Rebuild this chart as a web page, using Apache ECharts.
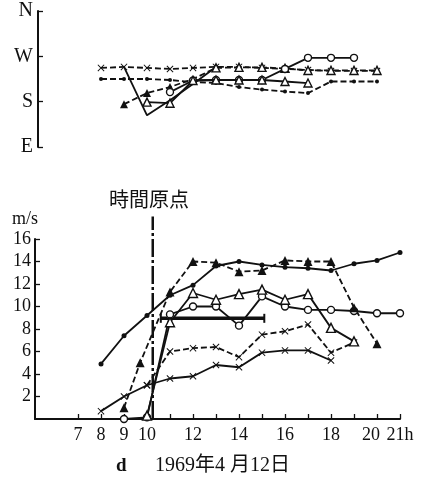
<!DOCTYPE html>
<html><head><meta charset="utf-8">
<script src="https://cdn.jsdelivr.net/npm/echarts/dist/echarts.min.js"></script>
<style>html,body{margin:0;padding:0;background:#fff}#c{width:431px;height:484px}</style>
</head><body><div id="c"></div><script>
// ---- tick labels ----
const hourTicks = [7,8,9,10,11,12,13,14,15,16,17,18,19,20,21];
const hourLabels = [7,8,9,10,12,14,16,18,20,21];
const dirValues = [90,180,270,360];
const dirNames = ['E','S','W','N'];
const timeOrigin = 10.25;

// ---- upper panel: wind direction (degrees) ----
const dirCrossDashed = [[8,247],[9,249],[10,247],[11,245],[12,247],[13,249],[14,249],[15,247],[16,245],[17,243],[18,241],[19,241],[20,241]];
const dirTriDashedA = [[9,175],[10,197],[11,209],[12,225],[13,247]];
const dirTriDashedB = [[13,247],[14,248],[15,248],[16,246],[17,242],[18,242],[19,242],[20,242]];
const dirDotDashed = [[8,225],[9,225],[10,225],[11,223],[12,219],[13,217],[14,209],[15,204],[16,200],[17,197],[18,220],[19,220],[20,220]];
const dirCircleSolid = [[11,199],[12,222],[13,223],[14,223],[15,223],[16,245],[17,267],[18,267],[19,267]];
const dirTriSolid = [[10,179],[11,177],[12,222],[13,223],[14,223],[15,223],[16,220],[17,217]];
const dirPlainSolid = [[9,249],[10,153],[11,183],[12,215],[13,249]];

// ---- lower panel: wind speed (m/s) ----
const spdDot = [[8,4.9],[9,7.4],[10,9.2],[11,11.0],[12,11.9],[13,13.6],[14,14.0],[15,13.7],[16,13.5],[17,13.4],[18,13.2],[19,13.8],[20,14.1],[21,14.8]];
const spdTriFilled = [[9,1.0],[9.7,5.0],[11,11.3],[12,14.0],[13,13.9],[14,13.1],[15,13.2],[16,14.1],[17,14.0],[18,14.0],[19,9.9],[20,6.7]];
const spdMean = [[10.6,8.95],[15.1,8.95]];
const spdTriOpen = [[10,0.3],[11,8.6],[12,11.2],[13,10.6],[14,11.1],[15,11.5],[16,10.6],[17,11.1],[18,8.1],[19,6.9]];
const spdCircle = [[9,0],[10,0.15],[11,9.3],[12,10.0],[13,10.0],[14,8.3],[15,10.9],[16,10.0],[17,9.7],[18,9.7],[19,9.6],[20,9.4],[21,9.4]];
const spdCrossDashed = [[10,3.0],[11,6.0],[12,6.3],[13,6.4],[14,5.5],[15,7.5],[16,7.8],[17,8.4],[18,5.9],[19,6.8]];
const spdCrossSolid = [[8,0.7],[9,2.0],[10,3.0],[11,3.6],[12,3.8],[13,4.8],[14,4.6],[15,5.9],[16,6.1],[17,6.1],[18,5.2]];
const originLine = [[timeOrigin,0],[timeOrigin,18]];

const SERIF = 'Liberation Serif';
const X = 'path://M1,0L5,4L9,0L10,1L6,5L10,9L9,10L5,6L1,10L0,9L4,5L0,1Z';
const BLK = '#111';

function ln(name, data, xi, opt) {
  return {
    name, type:'line', data, xAxisIndex:xi, yAxisIndex:xi,
    symbol: opt.symbol || 'none', symbolSize: opt.size || 6,
    showSymbol: opt.symbol ? true : false,
    lineStyle:{color:BLK, width: opt.width || 1.8, type: opt.dash ? [6,3] : 'solid'},
    itemStyle: opt.open ? {color:'#fff', borderColor:BLK, borderWidth:1.4} : {color:BLK, borderColor:BLK, borderWidth:0},
    animation:false, silent:true, z: opt.z || 2
  };
}

const chart = echarts.init(document.getElementById('c'), null, {renderer:'canvas'});
chart.setOption({
  backgroundColor:'#fff',
  animation:false,
  grid:[
    {left:38, right:31, top:11, height:136},
    {left:35, right:31, top:239, height:180}
  ],
  xAxis:[
    {gridIndex:0, type:'value', min:5.261, max:21, show:false},
    {gridIndex:1, type:'value', min:5.1304, max:21,
     axisLine:{show:true, lineStyle:{color:BLK, width:2}},
     axisTick:{show:true, inside:true, length:5, customValues:hourTicks, lineStyle:{color:BLK, width:1.3}},
     axisLabel:{customValues:hourLabels, color:BLK, fontFamily:SERIF, fontSize:18, margin:7,
       formatter: v => v === 20 ? '{l|20}' : (v === 21 ? '21h' : String(v)),
       rich:{l:{fontFamily:SERIF, fontSize:18, color:BLK, padding:[0,12,0,0]}}},
     splitLine:{show:false}}
  ],
  yAxis:[
    {gridIndex:0, type:'value', min:90, max:360, interval:90,
     axisLine:{show:true, lineStyle:{color:BLK, width:2}},
     axisTick:{show:true, inside:true, length:5, lineStyle:{color:BLK, width:1.3}},
     axisLabel:{color:BLK, fontFamily:SERIF, fontSize:20, margin:5,
       formatter: v => dirNames[dirValues.indexOf(v)] || ''},
     splitLine:{show:false}},
    {gridIndex:1, type:'value', min:0, max:16, interval:2,
     axisLine:{show:true, lineStyle:{color:BLK, width:2}},
     axisTick:{show:true, inside:true, length:5, lineStyle:{color:BLK, width:1.3}},
     axisLabel:{color:BLK, fontFamily:SERIF, fontSize:18, margin:4, showMinLabel:false},
     splitLine:{show:false}}
  ],
  graphic:[
    {type:'text', left:109, top:189, style:{text:'時間原点', font:'20px "Noto Sans CJK JP"', fill:BLK}},
    {type:'text', left:12, top:210, style:{text:'m/s', font:'18px "Liberation Serif"', fill:BLK}},
    {type:'text', left:116, top:457, style:{text:'d', font:'bold 19px "Liberation Serif"', fill:BLK}},
    {type:'text', left:155, top:456, style:{text:'1969年4 月12日', font:'20px "Liberation Serif", "Noto Sans CJK JP"', fill:BLK}}
  ],
  series:[
    // upper
    ln('dirCrossDashed', dirCrossDashed, 0, {symbol:X, size:7, dash:true}),
    ln('dirDotDashed', dirDotDashed, 0, {symbol:'circle', size:4, dash:true}),
    ln('dirTriDashedA', dirTriDashedA, 0, {symbol:'triangle', size:8, dash:true}),
    ln('dirTriDashedB', dirTriDashedB, 0, {symbol:'triangle', size:8, dash:true, open:true}),
    ln('dirPlainSolid', dirPlainSolid, 0, {}),
    ln('dirCircleSolid', dirCircleSolid, 0, {symbol:'circle', size:7, open:true}),
    ln('dirTriSolid', dirTriSolid, 0, {symbol:'triangle', size:8, open:true, z:3}),
    // lower
    Object.assign(ln('origin', originLine, 1, {width:2.5}), {clip:false, lineStyle:{color:BLK, width:2.5, type:[18,3,3,3]}}),
    ln('spdCrossSolid', spdCrossSolid, 1, {symbol:X, size:7}),
    ln('spdCrossDashed', spdCrossDashed, 1, {symbol:X, size:7, dash:true}),
    ln('spdMean', spdMean, 1, {symbol:'rect', size:[2,9], width:3.5}),
    ln('spdCircle', spdCircle, 1, {symbol:'circle', size:7, open:true}),
    ln('spdTriOpen', spdTriOpen, 1, {symbol:'triangle', size:9, open:true}),
    ln('spdDot', spdDot, 1, {symbol:'circle', size:5}),
    ln('spdTriFilled', spdTriFilled, 1, {symbol:'triangle', size:9, dash:true})
  ]
});
</script></body></html>
